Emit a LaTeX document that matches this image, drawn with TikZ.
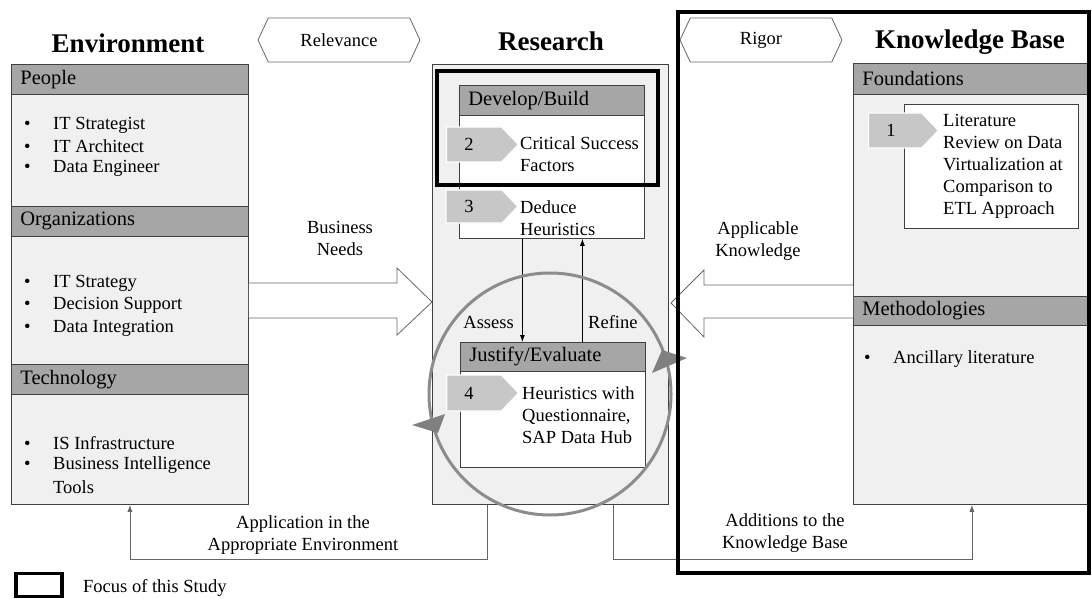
\documentclass[tikz,border=0pt]{standalone}
\usepackage{fontspec}
\setmainfont{Liberation Serif}
\usetikzlibrary{shapes.symbols,calc,arrows.meta}
\begin{document}
\begin{tikzpicture}[x=1pt,y=-1pt,>={Latex[length=7pt,width=5pt]},
	txt/.style={font=\fontsize{18.5}{22}\selectfont,inner sep=0pt},
	ttl/.style={font=\fontsize{27}{30}\selectfont\bfseries,inner sep=0pt},
	pnl/.style={draw=black!75,fill=black!6,line width=0.8pt,anchor=north west,inner sep=0pt},
	wbox/.style={draw=black!75,fill=white,line width=0.8pt,anchor=north west,inner sep=0pt},
	hdr/.style={draw=black!75,fill=black!35,line width=0.8pt,anchor=north west,
		inner xsep=9pt,inner ysep=0pt,align=left,font=\fontsize{20.5}{24}\selectfont},
	stepbox/.style={signal,signal to=east,signal pointer angle=92,fill=black!22,draw=white,
		line width=1.2pt,minimum width=72pt,minimum height=35pt,inner sep=0pt,
		font=\fontsize{18.5}{22}\selectfont},
	tagbox/.style={signal,signal to=west and east,signal pointer angle=130,draw=black!60,
		fill=white,line width=0.8pt,minimum width=162pt,minimum height=44pt,inner sep=0pt,
		font=\fontsize{18.5}{22}\selectfont},
	blk/.style={draw=black!60,fill=white,line width=0.8pt},
	link/.style={draw=black!60,line width=0.8pt},
	focus/.style={draw=black,line width=3.5pt}]
\useasboundingbox (0,0) rectangle (1092,599);

% environment
\node[ttl] (envtitle) at (128,43) {Environment};
\node[pnl,minimum width=237pt,minimum height=440pt] (env) at (11,64) {};
\node[hdr,text width=219pt,minimum height=30pt] (people) at (11,64) {People};
\node[hdr,text width=219pt,minimum height=30pt] (orgs) at (11,206) {Organizations};
\node[hdr,text width=219pt,minimum height=30pt] (tech) at (11,364) {Technology};
\foreach \y/\t in {125/IT Strategist,146/IT Architect,168/Data Engineer,
		283/IT Strategy,305/Decision Support,328/Data Integration,
		443/IS Infrastructure,465/Business Intelligence}
	\node[txt,anchor=west] (e\y) at (24,\y) {\makebox[29pt][l]{\textbullet}\t};
\node[txt,anchor=west] (e487) at (53,487) {Tools};

% research
\node[ttl] (restitle) at (551,41) {Research};
\node[pnl,minimum width=236pt,minimum height=440pt] (research) at (432,64) {};
\node[wbox,minimum width=185pt,minimum height=153pt] (develop) at (459,85) {};
\node[hdr,text width=167pt,minimum height=30pt] (devhdr) at (459,85) {Develop/Build};
\node[stepbox] (s2) at (474,144.5) {\hspace*{-10pt}2};
\node[txt,anchor=west,align=left] (csf) at (520,154) {Critical Success\\Factors};
\node[stepbox,minimum height=33pt] (s3) at (474,206.5) {\hspace*{-10pt}3};
\node[txt,anchor=west,align=left] (dh) at (520,218) {Deduce\\Heuristics};
\node[wbox,minimum width=185pt,minimum height=125pt] (justify) at (460,342) {};
\node[hdr,text width=167pt,minimum height=29pt] (jushdr) at (460,342) {Justify/Evaluate};
\node[stepbox,minimum height=36pt] (s4) at (474,393) {\hspace*{-10pt}4};
\node[txt,anchor=west,align=left] (hq) at (522,415) {Heuristics with\\Questionnaire,\\SAP Data Hub};
\draw[->,link,draw=black] ([xshift=-29.5pt]develop.south) -- ([xshift=-30.5pt]justify.north);
\draw[->,link,draw=black] ([xshift=29.5pt]justify.north) -- ([xshift=30.5pt]develop.south);
\node[txt,anchor=east] (assess) at (514,322) {Assess};
\node[txt,anchor=west] (refine) at (588,322) {Refine};
\node[circle,draw=black!45,line width=3pt,minimum size=242pt] (cyc) at (550,394) {};
\fill[black!50] (652,373) -- (662,350) -- (687,358) -- cycle;
\fill[black!50] (412,425) -- (445,414) -- (438,433) -- cycle;
\draw[focus] (437,71) rectangle (658,185);

% knowledge base
\node[ttl] (kbtitle) at (970,42) {Knowledge Base};
\node[pnl,minimum width=237pt,minimum height=441pt] (kb) at (853,63) {};
\node[hdr,text width=219pt,minimum height=31pt] (found) at (853,63) {Foundations};
\node[hdr,text width=219pt,minimum height=29pt] (meth) at (853,296) {Methodologies};
\node[wbox,minimum width=174pt,minimum height=124pt] (lit) at (904,104) {};
\node[stepbox,minimum width=70pt] (s1) at (895,130.5) {\hspace*{-8pt}1};
\node[txt,anchor=west,align=left] (littxt) at (943,166.5)
	{Literature\\Review on Data\\Virtualization at\\Comparison to\\ETL Approach};
\node[txt,anchor=west] (anc) at (864,359) {\makebox[29pt][l]{\textbullet}Ancillary literature};

% relevance and rigor
\node[tagbox] (rel) at (339,40) {Relevance};
\node[tagbox] (rig) at (761,40) {Rigor};

% big arrows
\path[blk] (env.east |- 0,283) -- (397,283) -- (397,268) -- (research.west |- 0,302)
	-- (397,335) -- (397,318) -- (env.east |- 0,318);
\node[txt,align=center] (bn) at (340,238) {Business\\Needs};
\path[blk] (kb.west |- 0,285) -- (704,285) -- (704,270) -- (671,303)
	-- (704,337) -- (704,318) -- (kb.west |- 0,318);
\node[txt,align=center] (ak) at (758,241) {Applicable\\Knowledge};

% feedback
\draw[->,link] ([xshift=-63pt]research.south) -- ++(0,55) -| (env.south);
\node[txt,align=center] (app) at (303,535) {Application in the\\Appropriate Environment};
\draw[->,link] ([xshift=63pt]research.south) -- ++(0,55) -| (kb.south);
\node[txt,align=center] (add) at (785,533) {Additions to the\\Knowledge Base};

\draw[focus] (678,12) rectangle (1089,573);

% legend
\node[draw,line width=3.5pt,minimum width=46pt,minimum height=23pt,inner sep=0pt] (leg) at (39,585) {};
\node[txt,anchor=west] (legtxt) at (83,588) {Focus of this Study};
\end{tikzpicture}
\end{document}
